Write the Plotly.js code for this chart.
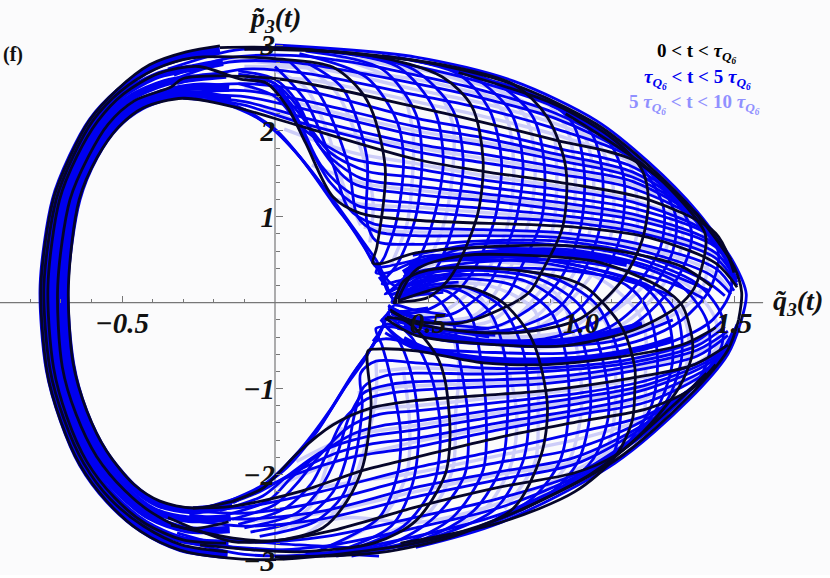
<!DOCTYPE html>
<html><head><meta charset="utf-8">
<script src="https://cdn.plot.ly/plotly-3.0.1.min.js"></script>
<style>html,body{margin:0;padding:0;background:#fff}#c{width:830px;height:578px}</style>
</head><body><div id="c"></div>
<script>
const blackCurves = [
 [-.18,2.99,-.29,2.92,-.41,2.77,-.516,2.48,-.605,2.13,-.67,1.7,-.725,1.2,-.765,.2,-.745,-.8,-.70,-1.38,-.637,-1.89,-.55,-2.31,-.44,-2.66,-.31,-2.88,-.157,-2.97,0,-2.99,.46,-2.8,.73,-2.52,1.11,-1.84,1.35,-1.1,1.48,-.55,1.515,-.2],
 [-.18,2.97,0,2.97,.46,2.82,.78,2.54,1.05,2.08,1.22,1.6,1.38,1.02,1.5,.42,1.525,.12,1.515,-.2],
 [-.135,-2.31,-.268,-2.39,-.376,-2.31,-.46,-2.12,-.55,-1.73,-.615,-1.26,-.66,-.7,-.675,.2,-.64,1.2,-.58,1.7,-.51,2.05,-.43,2.27,-.30,2.38,-.135,2.28,.07,2.07,.46,1.67,.68,1.53,.95,1.39,1.22,1.2,1.44,.81,1.50,.35],
 [-.152,-2.55,-.29,-2.63,-.40,-2.45,-.49,-2.19,-.583,-1.79,-.65,-1.3,-.695,-.75,-.71,.2,-.67,1.2,-.61,1.7,-.545,2.08,-.46,2.35,-.34,2.51,-.30,2.61,0,2.61,.46,2.28,.68,2.10,.92,1.89,1.17,1.66,1.38,1.03,1.49,.5],
 [-.16,-2.8,-.30,-2.76,-.424,-2.57,-.527,-2.26,-.615,-1.85,-.68,-1.33,-.724,-.75,-.742,.2,-.704,1.2,-.648,1.7,-.58,2.11,-.495,2.43,-.38,2.67,-.25,2.75,-.11,2.6,-.03,2.56,.04,2.28,.10,1.86,.19,1.23,.28,1.04,.46,.96,.98,.88,1.22,.76,1.44,.46,1.51,.18],
 [-.155,-2.9,-.305,-2.82,-.43,-2.6,-.54,-2.28,-.625,-1.87,-.69,-1.35,-.735,-.78,-.755,.2,-.715,1.2,-.66,1.7,-.595,2.12,-.505,2.46,-.39,2.72,-.27,2.85,-.1,2.86,0,2.84,.19,2.74,.30,2.36,.36,1.58,.333,.65,.32,.46,.353,.46,.46,.58,.89,.67,1.11,.61,1.33,.42,1.43,.18],
 [-.1,2.95,.31,2.88,.546,2.63,.644,2.28,.68,1.66,.663,1.04,.60,.46,.565,.26,.50,.06,.42,.01,.385,0],
 [.1,2.95,.55,2.77,.78,2.54,.89,2.16,.95,1.58,.94,.88,.87,.35,.83,.12,.71,-.12,.60,-.24,.44,-.2,.376,-.08],
 [.6,2.68,.92,2.3,1.11,1.89,1.2,1.54,1.22,1.2,1.2,.73,1.134,.26,1.0,-.18,.84,-.33,.68,-.35,.46,-.24,.38,-.1],
 [.95,2.2,1.24,1.5,1.405,.81,1.405,.58,1.37,.17,1.31,-.06,1.17,-.32,.95,-.5,.73,-.49,.46,-.38,.36,-.18],
 [.366,-.17,.42,-.2,.464,-.32,.53,-.63,.556,-.91,.572,-1.54,.556,-2.0,.46,-2.54,.33,-2.79,.08,-2.9,-.245,-2.82],
 [.386,0,.55,.18,.63,.18,.745,0,.84,-.43,.89,-1.19,.87,-1.77,.78,-2.39,.60,-2.7,.34,-2.91,0,-2.96],
 [.39,0,.42,.25,.50,.38,.71,.40,.93,.30,1.02,.17,1.134,-.29,1.176,-.76,1.176,-.99,1.167,-1.38,1.11,-1.8,.98,-2.2,.735,-2.56,.41,-2.8],
 [.40,.02,.46,.38,.62,.55,.83,.55,1.06,.47,1.265,.17,1.33,-.03,1.363,-.41,1.363,-.61,1.32,-.99,1.19,-1.55,1.03,-2.0,.80,-2.42],
 [-.137,-2.31,-.04,-2.16,.007,-2.0,.08,-1.73,.19,-1.42,.31,-1.23,.46,-1.14,.68,-1.08,.89,-1.02,1.16,-.88,1.363,-.73,1.48,-.49],
 [-.268,-2.39,-.14,-2.37,.08,-2.2,.29,-1.95,.46,-1.8,.73,-1.57,1.0,-1.38,1.22,-1.23,1.363,-1.0,1.44,-.72],
 [-.35,-2.5,-.14,-2.78,0,-2.77,.19,-2.65,.46,-2.38,.73,-2.15,.98,-1.98,1.11,-1.78,1.3,-1.2,1.41,-.82],
 [-.34,-2.59,-.137,-2.74,0,-2.77,.157,-2.62,.235,-2.31,.288,-1.89,.314,-1.19,.304,-.56,.33,-.54,.46,-.56,.68,-.7,.89,-.72,1.11,-.64,1.33,-.49,1.44,-.29]
];
const blueCurves = [
 [-.35,2.72,-.15,2.93,0,2.97,.2,2.92,.46,2.75,.68,2.56,.92,2.27,1.15,1.78,1.31,1.2,1.47,.58],
 [-.33,2.65,-.15,2.85,.05,2.88,.25,2.8,.46,2.65,.68,2.47,.92,2.2,1.15,1.76,1.32,1.18,1.47,.55],
 [-.33,2.6,-.15,2.8,.05,2.8,.46,2.55,.68,2.38,.92,2.14,1.15,1.74,1.33,1.15,1.48,.5],
 [-.32,2.55,-.1,2.72,.1,2.67,.46,2.42,.68,2.26,.92,2.02,1.15,1.72,1.34,1.13,1.48,.5],
 [-.3,2.5,-.1,2.55,.1,2.47,.46,2.15,.68,2.0,.92,1.8,1.17,1.58,1.36,1.08,1.49,.48],
 [-.28,2.45,-.1,2.47,.1,2.35,.46,2.05,.68,1.92,.92,1.73,1.17,1.52,1.37,1.04,1.49,.46],
 [-.26,2.42,-.1,2.4,.1,2.25,.46,1.95,.68,1.83,.92,1.66,1.17,1.46,1.38,1.0,1.49,.45],
 [-.25,2.4,-.1,2.34,.1,2.15,.46,1.85,.68,1.73,.92,1.58,1.17,1.41,1.39,.96,1.5,.42],
 [-.22,2.38,-.1,2.3,.08,2.1,.46,1.76,.68,1.63,.92,1.5,1.17,1.33,1.41,.9,1.5,.4],
 [-.12,2.55,0,2.4,.1,2.0,.25,1.68,.46,1.56,.68,1.43,.92,1.32,1.17,1.17,1.42,.8,1.5,.35],
 [-.1,2.65,0,2.5,.08,2.2,.18,1.75,.3,1.53,.46,1.46,.68,1.35,.92,1.24,1.17,1.1,1.43,.76,1.5,.32],
 [-.1,2.65,0,2.55,.07,2.3,.15,1.8,.28,1.45,.46,1.36,.68,1.27,.92,1.17,1.17,1.03,1.43,.7,1.5,.3],
 [-.12,2.7,0,2.6,.07,2.35,.14,1.85,.25,1.4,.46,1.26,.68,1.19,.92,1.09,1.17,.97,1.44,.65,1.51,.27],
 [-.12,2.66,0,2.55,.08,2.1,.15,1.6,.26,1.25,.46,1.16,.68,1.1,.92,1.02,1.17,.9,1.44,.58,1.51,.24],
 [-.1,2.6,0,2.5,.1,1.9,.18,1.4,.27,1.13,.46,1.06,.68,1.0,.92,.95,1.17,.83,1.44,.52,1.51,.2],
 [0,2.75,.1,2.35,.19,1.6,.24,1.1,.32,.92,.46,.87,.68,.85,.92,.82,1.17,.7,1.44,.4,1.5,.14],
 [.05,2.8,.15,2.4,.24,1.6,.27,1.0,.33,.83,.46,.78,.68,.78,.92,.76,1.17,.63,1.42,.33,1.49,.1],
 [.1,2.8,.22,2.5,.3,1.7,.3,.95,.33,.72,.46,.68,.68,.72,.92,.72,1.17,.58,1.4,.27,1.47,.08],
 [-.22,2.37,-.135,2.28,-.03,2.09,.08,1.7,.19,1.16,.28,.73,.31,.53,.33,.42,.36,.42,.46,.5],
 [-.1,2.25,0,2.0,.1,1.62,.21,1.1,.29,.7,.33,.5,.36,.3,.39,.2,.46,.3,.58,.4],
 [-.3,2.38,-.135,2.3,0,2.02,.12,1.52,.23,.98,.3,.6,.35,.3,.375,.1,.43,.15,.55,.28],
 [.33,.45,.36,.25,.385,.05,.42,.1,.5,.2,.6,.24],
 [.31,.55,.35,.3,.38,.1,.44,.2,.56,.3,.7,.33],
 [.34,.3,.37,.15,.39,.03,.45,.08,.55,.12],
 [.32,-.45,.35,-.3,.375,-.1,.44,-.15,.56,-.25,.7,-.3],
 [.3,-.6,.34,-.38,.37,-.17,.44,-.25,.56,-.33,.72,-.38],
 [.345,-.22,.37,-.12,.39,-.03,.45,-.08,.56,-.14],
 [.08,2.9,.3,2.62,.4,2.1,.42,1.66,.40,1.0,.36,.55,.33,.35,.37,.35,.46,.48,.7,.6,.95,.62,1.2,.45,1.42,.14],
 [.1,2.93,.35,2.72,.46,2.2,.48,1.66,.46,1.0,.40,.45,.35,.22,.40,.25,.55,.42,.8,.5,1.05,.45,1.3,.22,1.4,.05],
 [.15,2.93,.4,2.75,.52,2.25,.55,1.66,.52,1.0,.46,.45,.38,.15,.36,.10,.42,.2,.6,.36,.85,.4,1.1,.3,1.3,.08],
 [.2,2.92,.45,2.72,.58,2.25,.615,1.66,.59,1.0,.53,.42,.45,.15,.38,.02],
 [.35,2.88,.6,2.66,.7,2.25,.74,1.66,.72,1.0,.66,.45,.6,.15,.5,-.08,.42,-.12,.37,-.03],
 [.4,2.86,.65,2.62,.77,2.22,.81,1.64,.79,1.0,.73,.42,.68,.12,.58,-.13,.47,-.17,.37,-.05],
 [.45,2.82,.72,2.56,.84,2.18,.88,1.62,.87,.95,.8,.38,.76,.1,.64,-.2,.5,-.22,.37,-.07],
 [.6,2.68,.85,2.42,.97,2.1,1.01,1.55,1.0,.9,.94,.32,.86,0,.72,-.28,.52,-.3,.38,-.12],
 [.65,2.62,.9,2.36,1.03,2.0,1.07,1.5,1.06,.85,1.0,.3,.92,-.08,.77,-.31,.55,-.32,.38,-.13],
 [.72,2.55,.97,2.22,1.09,1.88,1.14,1.45,1.13,.8,1.07,.28,.97,-.14,.8,-.33,.58,-.33,.39,-.14],
 [.85,2.38,1.08,2.0,1.2,1.58,1.27,1.1,1.26,.65,1.18,.2,1.05,-.22,.88,-.42,.65,-.42,.4,-.22],
 [.9,2.3,1.12,1.88,1.25,1.42,1.31,1.0,1.3,.6,1.23,.15,1.1,-.27,.9,-.47,.68,-.46,.4,-.27],
 [1.0,2.12,1.2,1.6,1.31,1.18,1.36,.85,1.35,.55,1.28,.1,1.15,-.3,.93,-.5,.7,-.48,.4,-.3],
 [1.3,1.25,1.41,.88,1.45,.55,1.42,.15,1.33,-.2,1.2,-.43,.98,-.58,.72,-.58,.45,-.5,.37,-.3],
 [1.39,.98,1.48,.5,1.49,.15,1.43,-.2,1.3,-.45,1.05,-.62,.75,-.65,.47,-.55,.36,-.35],
 [.38,0,.45,.12,.52,.08,.58,-.2,.6,-.6,.63,-1.3,.62,-2.0,.52,-2.5,.38,-2.8,.1,-2.93],
 [.38,0,.47,.15,.57,.12,.64,-.15,.67,-.6,.69,-1.3,.68,-1.95,.58,-2.5,.42,-2.8,.15,-2.93],
 [.38,0,.5,.17,.6,.15,.7,-.1,.75,-.6,.76,-1.3,.74,-1.9,.65,-2.42,.48,-2.76,.2,-2.95],
 [.39,0,.52,.18,.62,.18,.74,-.05,.81,-.55,.83,-1.25,.81,-1.85,.72,-2.4,.52,-2.73,.25,-2.95],
 [.39,0,.47,.22,.6,.28,.78,.2,.9,-.1,.95,-.6,.96,-1.25,.93,-1.85,.84,-2.28,.65,-2.63,.4,-2.85],
 [.39,0,.46,.27,.62,.33,.82,.25,.96,-.1,1.02,-.65,1.03,-1.28,.99,-1.85,.9,-2.22,.7,-2.58,.45,-2.83],
 [.39,0,.45,.3,.63,.38,.86,.28,1.0,-.05,1.07,-.65,1.09,-1.3,1.04,-1.82,.94,-2.14,.72,-2.52],
 [.39,.02,.44,.32,.65,.42,.9,.3,1.05,-.02,1.13,-.7,1.13,-1.3,1.1,-1.8,.96,-2.12,.73,-2.5],
 [.39,.02,.46,.42,.63,.5,.9,.45,1.15,.2,1.22,-.1,1.25,-.65,1.23,-1.2,1.13,-1.72,.95,-2.14],
 [.39,.02,.46,.45,.63,.52,.88,.5,1.2,.2,1.28,-.15,1.3,-.65,1.26,-1.15,1.16,-1.64,1.0,-2.05],
 [.4,.05,.46,.5,.63,.55,.85,.52,1.22,.2,1.31,-.1,1.33,-.6,1.29,-1.08,1.19,-1.55,1.02,-2.0],
 [.42,.3,.6,.62,.85,.62,1.1,.52,1.32,.22,1.41,-.2,1.42,-.58,1.38,-.92,1.26,-1.36],
 [.45,.55,.65,.68,.9,.68,1.15,.55,1.38,.22,1.46,-.15,1.46,-.5,1.41,-.8,1.3,-1.22],
 [.16,-2.95,.38,-2.6,.45,-2.1,.47,-1.5,.45,-.9,.41,-.48,.35,-.2,.4,-.2,.5,-.28,.7,-.4],
 [.2,-2.93,.42,-2.6,.52,-2.1,.54,-1.45,.51,-.85,.45,-.42,.37,-.12,.42,-.1,.5,-.06],
 [.12,-2.92,.34,-2.5,.4,-2.0,.41,-1.5,.38,-.9,.35,-.5,.33,-.3,.38,-.28,.5,-.38,.8,-.5,1.1,-.45,1.3,-.2],
 [-.35,-2.72,-.1,-2.93,.15,-2.92,.46,-2.72,.73,-2.47,.98,-2.06,1.2,-1.55,1.33,-1.12,1.49,-.5],
 [-.32,-2.68,-.1,-2.87,.15,-2.84,.46,-2.62,.73,-2.39,.98,-2.03,1.2,-1.52,1.34,-1.08,1.49,-.48],
 [-.3,-2.6,-.1,-2.78,.15,-2.73,.46,-2.5,.73,-2.28,.98,-2.0,1.2,-1.5,1.35,-1.04,1.49,-.46],
 [-.3,-2.52,-.1,-2.6,.15,-2.52,.46,-2.26,.73,-2.06,.98,-1.88,1.2,-1.46,1.36,-1.0,1.49,-.44],
 [-.28,-2.47,-.1,-2.52,.15,-2.43,.46,-2.15,.73,-1.97,.98,-1.8,1.2,-1.43,1.37,-.97,1.49,-.42],
 [-.27,-2.42,-.1,-2.45,.15,-2.32,.46,-2.04,.73,-1.86,.98,-1.7,1.2,-1.38,1.39,-.9,1.5,-.4],
 [-.25,-2.4,-.1,-2.38,.15,-2.2,.46,-1.92,.73,-1.72,1.0,-1.5,1.22,-1.3,1.41,-.85,1.5,-.38],
 [-.22,-2.38,-.08,-2.22,.05,-2.02,.25,-1.8,.46,-1.68,.73,-1.48,1.0,-1.3,1.22,-1.15,1.42,-.78,1.5,-.35],
 [-.2,-2.4,-.05,-2.2,.05,-2.0,.2,-1.75,.32,-1.64,.46,-1.58,.73,-1.4,1.0,-1.24,1.22,-1.07,1.43,-.72,1.5,-.33],
 [-.18,-2.42,-.04,-2.25,.04,-2.02,.16,-1.72,.3,-1.56,.46,-1.48,.73,-1.32,1.0,-1.17,1.22,-1.0,1.44,-.65,1.5,-.3],
 [-.16,-2.47,-.02,-2.3,.05,-2.05,.13,-1.8,.26,-1.52,.35,-1.43,.46,-1.38,.73,-1.24,1.0,-1.1,1.22,-.95,1.45,-.6,1.51,-.27],
 [-.14,-2.52,0,-2.35,.08,-2.07,.14,-1.8,.24,-1.45,.34,-1.3,.46,-1.26,.73,-1.16,1.0,-1.05,1.22,-.9,1.46,-.55,1.51,-.25],
 [-.12,-2.58,.03,-2.4,.12,-2.1,.17,-1.75,.22,-1.38,.3,-1.12,.38,-1.05,.46,-1.02,.68,-.98,.89,-.94,1.16,-.8,1.38,-.62,1.48,-.38],
 [-.1,-2.62,.07,-2.45,.15,-2.15,.2,-1.8,.24,-1.35,.29,-1.05,.38,-.95,.46,-.92,.68,-.9,.89,-.87,1.16,-.74,1.38,-.55,1.48,-.33],
 [-.08,-2.67,.1,-2.5,.19,-2.2,.23,-1.85,.26,-1.3,.29,-.98,.36,-.85,.46,-.82,.68,-.83,.89,-.8,1.16,-.7,1.38,-.5,1.47,-.28],
 [-.05,-2.72,.13,-2.55,.22,-2.25,.26,-1.85,.285,-1.2,.28,-.82,.33,-.68,.46,-.7,.68,-.76,.89,-.76,1.16,-.66,1.38,-.44,1.46,-.22],
 [-.268,-2.39,-.137,-2.31,.026,-1.96,.137,-1.5,.22,-1.03,.29,-.68,.33,-.45,.36,-.42,.46,-.48],
 [-.137,-2.33,0,-2.03,.11,-1.62,.2,-1.15,.27,-.75,.32,-.5,.36,-.25,.42,-.3,.55,-.4],
 [-.2,-2.38,-.03,-2.1,.08,-1.72,.18,-1.25,.25,-.85,.31,-.55,.35,-.3],
 [.34,-2.95,.1,-2.9,-.157,-2.84],[.3,-2.86,.08,-2.82,-.157,-2.76],
 [.46,-2.85,.73,-2.57,1.11,-1.87,1.35,-1.14,1.48,-.6,1.52,-.25,1.54,.1,1.5,.46,1.38,1.06,1.22,1.64,1.05,2.12,.78,2.58,.46,2.86,0,3.0]
];
const ringBlue = [
 [-.18,2.94,-.28,2.88,-.4,2.74,-.51,2.46,-.6,2.12,-.665,1.7,-.72,1.2,-.76,.2,-.74,-.78,-.695,-1.36,-.632,-1.88,-.545,-2.3,-.435,-2.64,-.308,-2.86,-.155,-2.94],
 [-.17,2.8,-.26,2.74,-.38,2.65,-.495,2.43,-.583,2.11,-.648,1.7,-.703,1.2,-.742,.2,-.724,-.75,-.68,-1.33,-.615,-1.85,-.527,-2.26,-.424,-2.57,-.3,-2.76,-.152,-2.8],
 [-.16,2.65,-.25,2.62,-.36,2.56,-.475,2.38,-.563,2.09,-.628,1.7,-.683,1.2,-.722,.2,-.703,-.75,-.66,-1.31,-.597,-1.81,-.507,-2.21,-.41,-2.49,-.29,-2.64,-.148,-2.64],
 [-.15,2.5,-.24,2.52,-.34,2.47,-.455,2.32,-.54,2.07,-.607,1.7,-.663,1.2,-.702,.2,-.683,-.74,-.64,-1.28,-.575,-1.78,-.487,-2.17,-.397,-2.42,-.282,-2.52,-.145,-2.5],
 [-.145,2.36,-.23,2.42,-.32,2.42,-.437,2.28,-.52,2.05,-.588,1.7,-.645,1.2,-.684,.2,-.665,-.72,-.622,-1.27,-.557,-1.74,-.467,-2.13,-.383,-2.34,-.272,-2.42,-.14,-2.36]
];
const bandBlue = [
 [.42,.35,.5,.5,.7,.57,.95,.57,1.15,.45],
 [.42,-.28,.55,-.42,.8,-.47,1.0,-.42,1.2,-.25],
 [.42,-.42,.5,-.55,.75,-.68,1.0,-.65,1.2,-.53,1.3,-.42]
];
const lightCurves = [
 [-.2,2.85,.1,2.75,.46,2.6,.68,2.42,.92,2.17,1.15,1.74,1.33,1.16,1.48,.5],
 [-.1,2.75,.15,2.72,.46,2.48,.68,2.32,.92,2.08,1.15,1.72,1.34,1.14,1.48,.48],
 [-.1,2.6,.1,2.6,.46,2.34,.68,2.17,.92,1.95,1.15,1.66,1.36,1.1,1.49,.46],
 [-.1,2.5,.1,2.3,.46,2.0,.68,1.87,.92,1.7,1.17,1.49,1.38,1.01,1.49,.44],
 [-.05,2.3,.1,2.08,.46,1.81,.68,1.68,.92,1.54,1.17,1.37,1.4,.93,1.5,.41],
 [.03,2.02,.25,1.75,.46,1.62,.68,1.48,.92,1.36,1.17,1.19,1.42,.82,1.5,.36],
 [.12,1.6,.3,1.38,.46,1.31,.68,1.23,.92,1.13,1.17,1.0,1.43,.68,1.5,.29],
 [.2,1.2,.3,1.14,.46,1.11,.68,1.05,.92,.98,1.17,.86,1.44,.55,1.51,.22],
 [.29,.88,.4,.83,.68,.82,.92,.79,1.17,.67,1.43,.36,1.49,.12],
 [0,2.7,.1,2.5,.17,2.0,.22,1.4,.28,.9],
 [.1,2.75,.2,2.45,.27,1.9,.32,1.2,.31,.7],
 [.25,2.85,.5,2.6,.58,2.1,.58,1.5,.55,.9,.48,.35,.4,.05],
 [.2,2.85,.4,2.55,.45,2.0,.45,1.5,.43,.9,.38,.45],
 [.35,2.8,.63,2.55,.75,2.2,.78,1.6,.76,.9,.68,.3,.55,-.1,.4,-.14],
 [.45,2.75,.72,2.5,.82,2.15,.85,1.6,.83,.95,.76,.35,.65,-.15,.42,-.18],
 [.5,2.7,.78,2.4,.9,2.1,.92,1.6,.91,.9,.85,.3,.7,-.22,.45,-.22],
 [.6,2.66,.86,2.4,.95,2.05,.98,1.55,.97,.9,.9,.3,.75,-.25,.45,-.26],
 [.62,2.62,.92,2.28,1.01,1.95,1.04,1.5,1.03,.85,.97,.3,.8,-.28,.48,-.28],
 [.65,2.6,.94,2.26,1.05,1.9,1.1,1.48,1.1,.82,1.03,.3,.85,-.3,.5,-.3],
 [.82,2.42,1.03,2.05,1.15,1.68,1.18,1.3,1.18,.75,1.13,.25,.95,-.33,.55,-.36],
 [.86,2.36,1.08,1.95,1.2,1.52,1.29,1.1,1.28,.65,1.2,.18,1.02,-.28,.7,-.42],
 [.92,2.26,1.13,1.8,1.26,1.35,1.33,.9,1.32,.55,1.25,.12,1.12,-.28,.8,-.47],
 [1.2,1.6,1.35,1.08,1.41,.7,1.4,.2,1.32,-.1,1.1,-.42,.85,-.53],
 [.05,-2.6,.25,-2.5,.46,-2.56,.73,-2.34,.98,-1.95,1.2,-1.5,1.36,-1.02,1.49,-.46],
 [-.1,-2.55,.15,-2.45,.46,-2.2,.73,-2.0,.98,-1.85,1.2,-1.45,1.38,-.96,1.49,-.43],
 [-.08,-2.35,.15,-2.15,.46,-1.98,.73,-1.78,1.0,-1.58,1.22,-1.33,1.41,-.88,1.5,-.38],
 [-.02,-2.18,.2,-1.85,.46,-1.62,.73,-1.44,1.0,-1.27,1.22,-1.1,1.43,-.74,1.5,-.33],
 [.07,-1.85,.25,-1.55,.46,-1.43,.73,-1.28,1.0,-1.13,1.22,-.97,1.45,-.62,1.51,-.28],
 [.17,-1.45,.3,-1.25,.46,-1.2,.68,-1.12,.89,-1.05,1.16,-.9,1.38,-.7,1.48,-.42],
 [.27,-1.05,.4,-.98,.68,-.94,.89,-.9,1.16,-.77,1.38,-.58,1.48,-.35],
 [.34,-.8,.46,-.76,.68,-.79,.89,-.78,1.16,-.68,1.38,-.47,1.47,-.25],
 [0,-2.7,.12,-2.35,.17,-1.9,.22,-1.45],
 [.1,-2.7,.22,-2.35,.28,-1.85,.33,-1.1,.33,-.7],
 [.2,-2.8,.35,-2.5,.43,-2.0,.44,-1.4,.42,-.8],
 [.38,-.1,.55,-.2,.6,-.7,.59,-1.3,.58,-1.95,.5,-2.45,.3,-2.75],
 [.39,0,.55,.15,.66,.1,.74,-.5,.79,-1.3,.77,-1.9,.68,-2.42,.5,-2.72],
 [.39,0,.5,.2,.7,.2,.85,-.1,.86,-.6,.86,-1.25,.85,-1.85,.75,-2.4],
 [.39,0,.48,.25,.72,.3,.92,.1,.99,-.6,1.0,-1.28,.96,-1.85,.86,-2.27],
 [.39,0,.45,.31,.68,.4,.95,.25,1.09,-.3,1.11,-1.3,1.07,-1.8,.95,-2.14],
 [.4,.05,.5,.45,.75,.47,1.05,.3,1.2,-.2,1.21,-.9,1.2,-1.4,1.09,-1.78],
 [.42,.35,.7,.58,1.0,.5,1.25,.2,1.34,-.2,1.35,-.65,1.3,-1.05,1.18,-1.56],
 [.45,.5,.7,.65,1.05,.58,1.35,.2,1.44,-.2,1.44,-.55,1.38,-.95,1.24,-1.42]
];
const xTickVals = [-0.5, 0.5, 1.0, 1.5];
const xTickText = ['\u22120.5', '0.5', '1.0', '1.5'];
const xMinorVals = [-.8,-.7,-.6,-.4,-.3,-.2,-.1,.1,.2,.3,.4,.6,.7,.8,.9,1.1,1.2,1.3,1.4];
const yTickVals = [-3,-2,-1,1,2,3];
const yTickText = ['\u22123','\u22122','\u22121','1','2','3'];
const yMinorVals = [-2.8,-2.6,-2.4,-2.2,-1.8,-1.6,-1.4,-1.2,-.8,-.6,-.4,-.2,.2,.4,.6,.8,1.2,1.4,1.6,1.8,2.2,2.4,2.6,2.8];

function group(curves, name, color, width) {
  const x = [], y = [];
  curves.forEach(c => {
    for (let i = 0; i < c.length; i += 2) { x.push(c[i]); y.push(c[i + 1]); }
    x.push(null); y.push(null);
  });
  return { type:'scatter', mode:'lines', name, x, y, hoverinfo:'skip', showlegend:false,
           line:{ color, width, shape:'spline', smoothing:.85, simplify:false } };
}
const serif = '"Liberation Serif", "Times New Roman", serif';
const tau = '<i>\u03c4<sub>Q<sub>6</sub></sub></i>';
const traces = [
  group(lightCurves, '5 tau < t < 10 tau', '#cdcdf8', 3.4),
  group(ringBlue, 'ring', '#0000f0', 7.5),
  group(bandBlue, 'band', '#0000f0', 6),
  group(blueCurves, 'tau < t < 5 tau', '#0000f0', 2.8),
  group(blackCurves, '0 < t < tau', '#05052a', 2.8)
];
const note = (text, x, y, size, color, anchor) => ({ text, x, y, xref:'x', yref:'y', showarrow:false,
  xanchor:anchor||'center', yanchor:'middle', font:{ family:serif, size, color, weight:'bold' } });
const tickFont = { family:serif, size:29, color:'#111', style:'italic', weight:'bold' };
const layout = {
  width:830, height:578, margin:{l:0,r:0,t:0,b:3}, paper_bgcolor:'#ffffff', plot_bgcolor:'#fbfbfc', showlegend:false,
  xaxis:{ range:[-.8987,1.8137], domain:[0,1], anchor:'free', position:.4736, showgrid:false, zeroline:false, showline:false,
    tickmode:'array', tickvals:xTickVals, ticktext:xTickText, ticks:'inside', ticklen:7, tickcolor:'#777', tickwidth:1,
    tickfont:tickFont, layer:'above traces', ticklabeloverflow:'allow',
    minor:{ tickmode:'array', tickvals:xMinorVals, ticks:'inside', ticklen:4, tickcolor:'#777', tickwidth:1, showgrid:false } },
  yaxis:{ range:[-3.170,3.524], domain:[0,1], anchor:'free', position:.3313, showgrid:false, zeroline:false, showline:false,
    tickmode:'array', tickvals:yTickVals, ticktext:yTickText, ticks:'inside', ticklen:7, tickcolor:'#777', tickwidth:1,
    tickfont:tickFont, layer:'above traces', ticklabeloverflow:'allow',
    minor:{ tickmode:'array', tickvals:yMinorVals, ticks:'inside', ticklen:4, tickcolor:'#777', tickwidth:1, showgrid:false } },
  shapes:[
    { type:'line', layer:'below', xref:'x', yref:'y', x0:-.8987, x1:1.595, y0:0, y1:0, line:{color:'#777',width:1.2} },
    { type:'line', layer:'below', xref:'x', yref:'y', x0:0, x1:0, y0:-3.007, y1:3.0, line:{color:'#777',width:1.2} }
  ],
  annotations:[
    note('<i>p\u0303<sub>3</sub>(t)</i>', 0, 3.3, 28, '#111'),
    note('<i>q\u0303<sub>3</sub>(t)</i>', 1.71, .0, 28, '#111'),
    note('(f)', -.897, 2.89, 20, '#111', 'left'),
    note('0 &lt; t &lt; '+tau, 1.38, 2.91, 19, '#000'),
    note(tau+' &lt; t &lt; 5 '+tau, 1.38, 2.60, 19, '#0000f0'),
    note('5 '+tau+' &lt; t &lt; 10 '+tau, 1.37, 2.31, 19, '#9090ff')
  ]
};
Plotly.newPlot('c', traces, layout, { displayModeBar:false, staticPlot:true });
</script></body></html>
